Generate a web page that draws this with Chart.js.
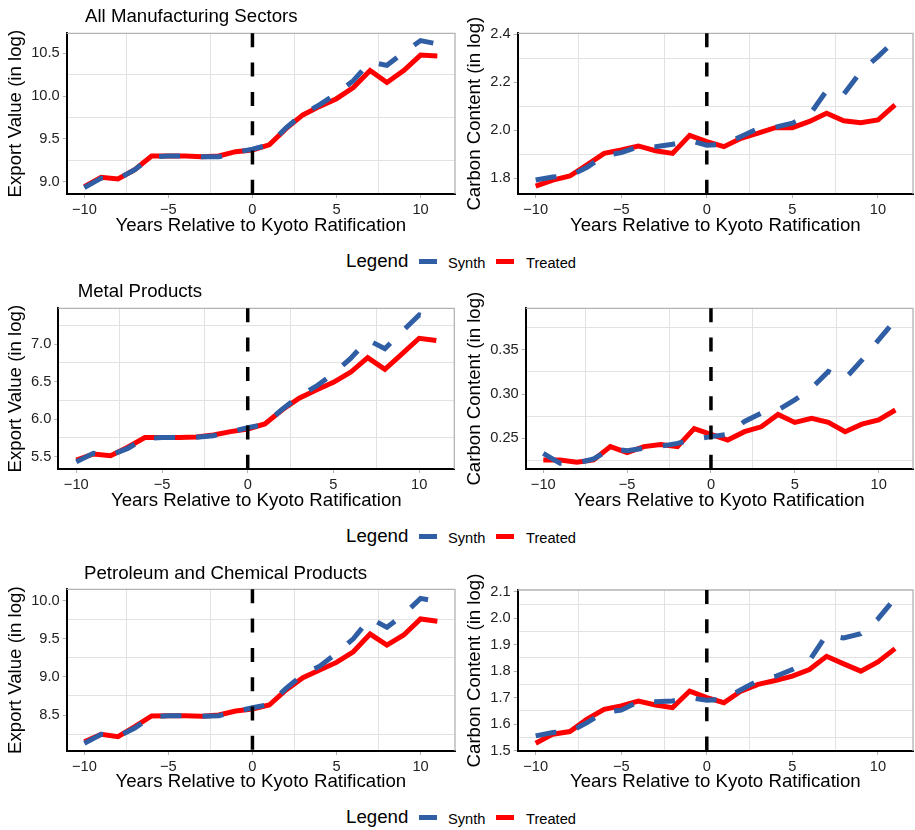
<!DOCTYPE html>
<html>
<head>
<meta charset="utf-8">
<script src="https://cdn.jsdelivr.net/npm/chart.js@4.4.0/dist/chart.umd.min.js"></script>
<style>
body{margin:0;background:#fff;}
#wrap{position:relative;width:915px;height:830px;font-family:'Liberation Sans',Arial,sans-serif;}
canvas{position:absolute;}
.ptitle{position:absolute;font-size:18.67px;line-height:1;color:#000;white-space:nowrap;}
.lg{position:absolute;line-height:1;white-space:nowrap;color:#000;}
.sw{position:absolute;width:18px;height:5px;}
</style>
</head>
<body>
<div id="wrap"></div>
<script>
// years relative to ratification
const years = [-10,-9,-8,-7,-6,-5,-4,-3,-2,-1,0,1,2,3,4,5,6,7,8,9,10,11];
const kyotoYear = 0;
const xTickLabels = ['−10','−5','0','5','10'];
const seriesNames = ['Synth','Treated'];

// All Manufacturing Sectors
const synthAllExport   = [8.93,9.04,9.03,9.14,9.29,9.30,9.30,9.29,9.29,9.34,9.38,9.43,9.63,9.79,9.90,10.03,10.18,10.40,10.36,10.51,10.65,10.61];
const treatedAllExport = [8.94,9.05,9.03,9.14,9.30,9.30,9.30,9.29,9.30,9.35,9.37,9.43,9.62,9.78,9.88,9.97,10.10,10.30,10.16,10.30,10.48,10.47];
const synthAllCarbon   = [1.793,1.806,1.81,1.846,1.895,1.907,1.932,1.932,1.942,1.958,1.938,1.942,1.974,2.007,2.013,2.03,2.064,2.165,2.15,2.244,2.307,2.374];
const treatedAllCarbon = [1.768,1.793,1.81,1.856,1.904,1.918,1.935,1.915,1.904,1.979,1.953,1.932,1.967,1.988,2.011,2.011,2.037,2.071,2.04,2.032,2.043,2.106];

// Metal Products
const synthMetalExport   = [5.43,5.545,5.52,5.61,5.745,5.754,5.754,5.76,5.78,5.83,5.887,5.93,6.13,6.31,6.44,6.61,6.81,7.06,6.94,7.17,7.39,7.35];
const treatedMetalExport = [5.455,5.536,5.513,5.625,5.754,5.754,5.754,5.763,5.79,5.834,5.869,5.936,6.123,6.28,6.39,6.492,6.626,6.822,6.666,6.871,7.08,7.049];
const synthMetalCarbon   = [0.233,0.2217,0.222,0.2266,0.238,0.236,0.2387,0.241,0.2443,0.249,0.2519,0.2545,0.269,0.2783,0.282,0.2934,0.3066,0.3255,0.3175,0.3383,0.3613,0.384];
const treatedMetalCarbon = [0.2255,0.2255,0.223,0.2255,0.2406,0.2338,0.2406,0.243,0.2406,0.261,0.2545,0.248,0.2575,0.263,0.277,0.268,0.2726,0.268,0.2575,0.266,0.2708,0.282];

// Petroleum and Chemical Products
const synthPetroExport   = [8.128,8.246,8.22,8.33,8.48,8.49,8.49,8.485,8.49,8.545,8.596,8.64,8.85,9.03,9.14,9.31,9.50,9.77,9.65,9.82,10.03,9.99];
const treatedPetroExport = [8.15,8.246,8.216,8.347,8.487,8.49,8.49,8.483,8.5,8.552,8.579,8.631,8.828,8.99,9.09,9.19,9.33,9.562,9.418,9.55,9.76,9.73];
const synthPetroCarbon   = [1.556,1.569,1.572,1.606,1.645,1.653,1.685,1.685,1.6875,1.70,1.69,1.694,1.73,1.765,1.78,1.806,1.84,1.937,1.925,1.941,1.997,2.075];
const treatedPetroCarbon = [1.528,1.5625,1.5725,1.619,1.656,1.669,1.6875,1.6725,1.6625,1.725,1.70,1.681,1.725,1.75,1.765,1.781,1.806,1.856,1.8275,1.80,1.835,1.885];

// y tick labels
const yTicksAllExport   = ['9.0','9.5','10.0','10.5'];
const yTicksAllCarbon   = ['1.8','2.0','2.2','2.4'];
const yTicksMetalExport = ['5.5','6.0','6.5','7.0'];
const yTicksMetalCarbon = ['0.25','0.30','0.35'];
const yTicksPetroExport = ['8.5','9.0','9.5','10.0'];
const yTicksPetroCarbon = ['1.5','1.6','1.7','1.8','1.9','2.0','2.1'];

const BLUE = '#2f5ea5', RED = '#ff0000';
const CH = 240;
const rowTops = [0, 275, 556];
const rowTitles = ['All Manufacturing Sectors','Metal Products','Petroleum and Chemical Products'];
const titleX = [85, 77.7, 84];
const titleBase = [23, 298, 579.5];

const panels = [
  {synth:synthAllExport, treated:treatedAllExport, yt:yTicksAllExport, ymin:8.855, ymax:10.735, ytitle:'Export Value (in log)', cx:0, cy:0, cw:460, l:66.7, r:455, t:33.3, b:194},
  {synth:synthAllCarbon, treated:treatedAllCarbon, yt:yTicksAllCarbon, ymin:1.735, ymax:2.404, ytitle:'Carbon Content (in log)', cx:460, cy:0, cw:455, l:517.7, r:913, t:33.3, b:194},
  {synth:synthMetalExport, treated:treatedMetalExport, yt:yTicksMetalExport, ymin:5.335, ymax:7.48, ytitle:'Export Value (in log)', cx:0, cy:275, cw:460, l:58.3, r:454.3, t:308.3, b:469},
  {synth:synthMetalCarbon, treated:treatedMetalCarbon, yt:yTicksMetalCarbon, ymin:0.2153, ymax:0.397, ytitle:'Carbon Content (in log)', cx:460, cy:275, cw:455, l:525.7, r:913, t:308.3, b:469},
  {synth:synthPetroExport, treated:treatedPetroExport, yt:yTicksPetroExport, ymin:8.028, ymax:10.149, ytitle:'Export Value (in log)', cx:0, cy:556, cw:460, l:66.7, r:455, t:589.3, b:751},
  {synth:synthPetroCarbon, treated:treatedPetroCarbon, yt:yTicksPetroCarbon, ymin:1.499, ymax:2.106, ytitle:'Carbon Content (in log)', cx:460, cy:556, cw:455, l:517.7, r:913, t:590, b:751}
];

Chart.defaults.font.family = "'Liberation Sans', Arial, sans-serif";

const wrap = document.getElementById('wrap');
const num = s => parseFloat(s.replace('−','-'));
const xMajors = xTickLabels.map(num);

function withMinors(majors, min, max){
  const half = (majors[1]-majors[0])/2;
  const out = [];
  for(let k=-20;k<=2*majors.length+20;k++){
    const v = +(majors[0]+k*half).toFixed(6);
    if(v>=min && v<=max) out.push({value:v});
  }
  return out;
}
const isMajor = (v, majors) => majors.some(m => Math.abs(m-v) < 1e-6);
function labelFor(v, majors, labels){
  const i = majors.findIndex(m => Math.abs(m-v) < 1e-6);
  return i < 0 ? '' : labels[i];
}
function gridOpts(majors){
  return {
    color: c => isMajor(c.tick.value, majors) ? 'rgba(0,0,0,0)' : '#e2e2e2',
    tickColor: c => isMajor(c.tick.value, majors) ? '#b3b3b3' : 'rgba(0,0,0,0)',
    lineWidth:1, tickWidth:1, tickLength:4, drawTicks:true
  };
}

const frame = {
  id:'frame',
  beforeDatasetsDraw(chart){
    const {ctx, chartArea:a} = chart;
    ctx.save();
    ctx.strokeStyle='#b3b3b3'; ctx.lineWidth=1.3;
    ctx.beginPath(); ctx.moveTo(a.left,a.top); ctx.lineTo(a.right,a.top); ctx.lineTo(a.right,a.bottom); ctx.stroke();
    ctx.restore();
  },
  afterDatasetsDraw(chart){
    const {ctx, chartArea:a, scales} = chart;
    const x = scales.x.getPixelForValue(kyotoYear);
    ctx.save();
    ctx.strokeStyle='#000'; ctx.lineWidth=3.5; ctx.setLineDash([14,15.3]);
    ctx.beginPath(); ctx.moveTo(x,a.top); ctx.lineTo(x,a.bottom); ctx.stroke();
    ctx.restore();
  }
};

panels.forEach(p => {
  const c = document.createElement('canvas');
  c.width = p.cw; c.height = CH;
  c.style.left = p.cx+'px'; c.style.top = p.cy+'px';
  wrap.appendChild(c);
  const yMajors = p.yt.map(num);
  new Chart(c, {
    type:'line',
    data:{
      datasets:[
        {label:seriesNames[0], data:years.map((x,i)=>({x, y:p.synth[i]})), borderColor:BLUE, borderWidth:5, borderDash:[21,21], pointRadius:0, tension:0, fill:false},
        {label:seriesNames[1], data:years.map((x,i)=>({x, y:p.treated[i]})), borderColor:RED, borderWidth:5, pointRadius:0, tension:0, fill:false}
      ]
    },
    options:{
      responsive:false, animation:false, devicePixelRatio:1,
      layout:{padding:{left:0, right:p.cx+p.cw-p.r, top:p.t-p.cy, bottom:0}},
      plugins:{legend:{display:false}, tooltip:{enabled:false}},
      scales:{
        x:{
          type:'linear', min:-11.05, max:12.05,
          afterBuildTicks: ax => { ax.ticks = withMinors(xMajors, -11.05, 12.05); },
          afterFit: ax => { ax.height = p.cy+CH-p.b; },
          ticks:{autoSkip:false, maxRotation:0, padding:3, color:'#222', font:{size:14.67}, callback: v => labelFor(v, xMajors, xTickLabels)},
          grid:gridOpts(xMajors),
          border:{color:'#000', width:2},
          title:{display:true, text:'Years Relative to Kyoto Ratification', color:'#000', font:{size:18.67}, padding:{top:0, bottom:3}}
        },
        y:{
          type:'linear', min:p.ymin, max:p.ymax,
          afterBuildTicks: ax => { ax.ticks = withMinors(yMajors, p.ymin, p.ymax); },
          afterFit: ax => { ax.width = p.l-p.cx; },
          ticks:{autoSkip:false, padding:3, color:'#222', font:{size:14.67}, callback: v => labelFor(v, yMajors, p.yt)},
          grid:gridOpts(yMajors),
          border:{color:'#000', width:2},
          title:{display:true, text:p.ytitle, color:'#000', font:{size:18.67}, padding:{top:p.cx ? 4 : 5, bottom:0}}
        }
      }
    },
    plugins:[frame]
  });
});

function addText(cls, text, left, top, size){
  const d = document.createElement('div');
  d.className = cls; d.textContent = text;
  d.style.left = left+'px'; d.style.top = top+'px';
  if(size) d.style.fontSize = size+'px';
  wrap.appendChild(d);
}
rowTitles.forEach((t,i) => addText('ptitle', t, titleX[i], titleBase[i]-15.8));

rowTops.forEach(rt => {
  addText('lg', 'Legend', 346, rt+252.2, 18.67);
  [[BLUE,419,448],[RED,496,526]].forEach(([col,sx,tx],i) => {
    const s = document.createElement('div');
    s.className='sw'; s.style.background=col;
    s.style.left=sx+'px'; s.style.top=(rt+259)+'px';
    wrap.appendChild(s);
    addText('lg', seriesNames[i], tx, rt+255.6, 14.67);
  });
});
</script>
</body>
</html>
